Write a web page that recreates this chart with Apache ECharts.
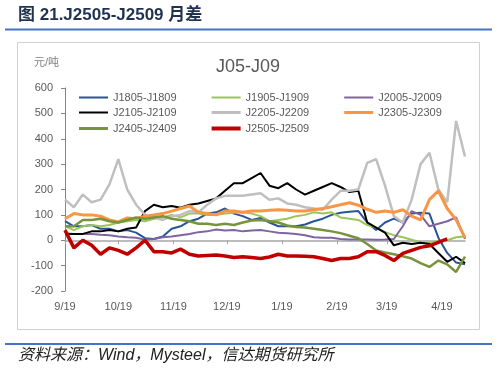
<!DOCTYPE html>
<html><head><meta charset="utf-8">
<script src="https://cdn.jsdelivr.net/npm/echarts@6/dist/echarts.min.js"></script>
<style>html,body{margin:0;padding:0;background:#fff}#c{width:498px;height:370px}</style>
</head><body><div id="c"></div>
<script>
// days since 9/19 (sample points)
const days = [0,5,10,15,20,25,30,35,40,45,50,55,60,65,70,75,80,85,90,95,100,105,110,115,120,125,130,135,140,145,150,155,160,165,170,175,180,185,190,195,200,205,210,215,220,225];
const tickDays = [0,30,61,91,122,153,181,212];
const tickLabels = ['9/19','10/19','11/19','12/19','1/19','2/19','3/19','4/19'];
const yTicks = [-200,-100,0,100,200,300,400,500,600];

const seriesNames = ['J1805-J1809','J1905-J1909','J2005-J2009','J2105-J2109','J2205-J2209','J2305-J2309','J2405-J2409','J2505-J2509'];

const J1805 = [75,55,55,60,45,45,35,40,30,8,5,15,45,55,75,85,105,110,125,105,95,80,88,70,55,55,55,62,75,85,100,108,112,115,70,40,70,85,70,105,108,105,10,-50,-88,-95];
const J1905 = [55,40,55,60,55,60,70,75,80,75,85,90,100,90,105,105,100,100,105,108,110,105,95,75,80,85,95,100,110,105,110,90,85,80,60,50,32,20,12,2,-8,-10,-5,0,12,15];
const J2005 = [28,25,25,25,22,20,15,12,10,2,5,12,15,20,25,32,35,42,38,40,35,38,40,35,30,28,25,20,12,10,10,5,3,3,3,2,3,5,55,115,100,55,65,75,90,5];
const J2105 = [25,25,25,35,35,40,35,45,50,115,140,130,135,128,140,145,155,165,195,225,225,245,265,215,205,225,200,180,195,210,225,210,190,195,70,50,30,-20,-10,-15,-10,-15,-50,-85,-65,-90];
const J2205 = [160,130,180,150,160,220,320,200,140,100,90,80,95,100,115,110,140,165,175,175,175,180,185,160,165,145,140,130,125,120,160,195,195,200,305,320,215,95,70,160,300,345,200,150,470,330];
const J2305 = [85,105,100,100,95,80,72,88,85,95,100,105,115,125,135,110,105,100,115,115,110,115,115,118,120,118,115,115,120,125,132,140,148,138,122,110,115,110,120,95,80,160,195,125,80,10];
const J2405 = [55,55,80,80,85,75,70,80,90,85,90,95,85,80,75,65,65,60,65,60,70,78,80,75,70,58,52,50,45,40,35,28,18,8,-15,-40,-48,-55,-63,-72,-90,-105,-80,-95,-125,-65];
const J2505 = [40,-30,0,-20,-55,-30,-40,-55,-30,0,-45,-45,-50,-35,-55,-62,-60,-58,-62,-68,-65,-68,-72,-66,-55,-62,-62,-63,-65,-72,-80,-72,-72,-65,-45,-45,-60,-80,-52,-40,-28,-22,-8,5,null,null];

const seriesValues = [J1805,J1905,J2005,J2105,J2205,J2305,J2405,J2505];
const colors = ['#2A5595','#9BC55A','#8064A2','#000000','#BFBFBF','#F79646','#77933C','#C00000'];
const widths = [2,2,2,2,2.5,3,2.5,3.5];

const FONT = '"Liberation Sans","Noto Sans CJK SC",sans-serif';

const chart = echarts.init(document.getElementById('c'), null, {renderer:'canvas'});

const series = seriesNames.map((name, i) => ({
  name: name,
  type: 'line',
  xAxisIndex: 0,
  symbol: 'none',
  showSymbol: false,
  color: colors[i],
  lineStyle: {color: colors[i], width: widths[i]},
  z: 2 + i,
  data: days.map((d, j) => [d, seriesValues[i][j]]).filter(p => p[1] !== null)
}));

function legendItem(i) {
  const h = Math.round(widths[i]);
  return {name: seriesNames[i], icon: 'path://M0 0H29V' + h + 'H0Z', itemStyle: {color: colors[i]}};
}

const legendBase = {
  left: 79, itemGap: 35, itemWidth: 29, itemHeight: 14, selectedMode: false,
  padding: 0, symbolKeepAspect: true,
  textStyle: {fontSize: 11, color: '#595959', fontFamily: FONT}
};

chart.setOption({
  animation: false,
  backgroundColor: '#fff',
  grid: {left: 65, right: 33, top: 88, bottom: 79, containLabel: false},
  legend: [
    Object.assign({}, legendBase, {top: 92, data: [0,1,2].map(legendItem)}),
    Object.assign({}, legendBase, {top: 107, data: [3,4,5].map(legendItem)}),
    Object.assign({}, legendBase, {top: 123, data: [6,7].map(legendItem)})
  ],
  xAxis: [
    {type: 'value', min: 0, max: 225, position: 'bottom',
     axisLine: {show: true, onZero: true, lineStyle: {color: '#A6A6A6', width: 1.5}},
     axisTick: {show: true, customValues: tickDays, length: 4, lineStyle: {color: '#A6A6A6'}},
     axisLabel: {show: false}, splitLine: {show: false}},
    {type: 'value', min: 0, max: 225, position: 'bottom',
     axisLine: {show: false, onZero: false}, axisTick: {show: false},
     axisLabel: {show: true, customValues: tickDays, margin: 10, fontSize: 11, color: '#595959', fontFamily: FONT,
       formatter: v => tickLabels[tickDays.indexOf(v)]},
     splitLine: {show: false}}
  ],
  yAxis: {type: 'value', min: -200, max: 600, interval: 100,
    axisLine: {show: true, lineStyle: {color: '#868686', width: 1}},
    axisTick: {show: true, length: 4, lineStyle: {color: '#868686'}},
    axisLabel: {fontSize: 11, color: '#595959', margin: 12, fontFamily: FONT, customValues: yTicks},
    splitLine: {show: false}},
  graphic: [
    {type: 'text', x: 18, y: 15, style: {text: '图 21.J2505-J2509 月差', font: 'bold 17px ' + FONT, fill: '#1F3350', verticalAlign: 'middle'}},
    {type: 'line', shape: {x1: 5, y1: 29.5, x2: 492, y2: 29.5}, style: {stroke: '#4472C4', lineWidth: 2}},
    {type: 'rect', shape: {x: 17.5, y: 42.5, width: 462, height: 287}, style: {fill: 'none', stroke: '#D0D0D0', lineWidth: 1}},
    {type: 'text', x: 248, y: 67, style: {text: 'J05-J09', font: '18px ' + FONT, fill: '#595959', align: 'center', verticalAlign: 'middle'}},
    {type: 'text', x: 34, y: 63, style: {text: '元/吨', font: '11px ' + FONT, fill: '#7F7F7F', verticalAlign: 'middle'}},
    {type: 'line', shape: {x1: 5, y1: 344, x2: 492, y2: 344}, style: {stroke: '#4472C4', lineWidth: 2}},
    {type: 'text', x: 18, y: 356, style: {text: '资料来源：Wind，Mysteel，信达期货研究所', font: 'italic 16px ' + FONT, fill: '#222', verticalAlign: 'middle'}}
  ],
  series: series
});
</script>
</body></html>
